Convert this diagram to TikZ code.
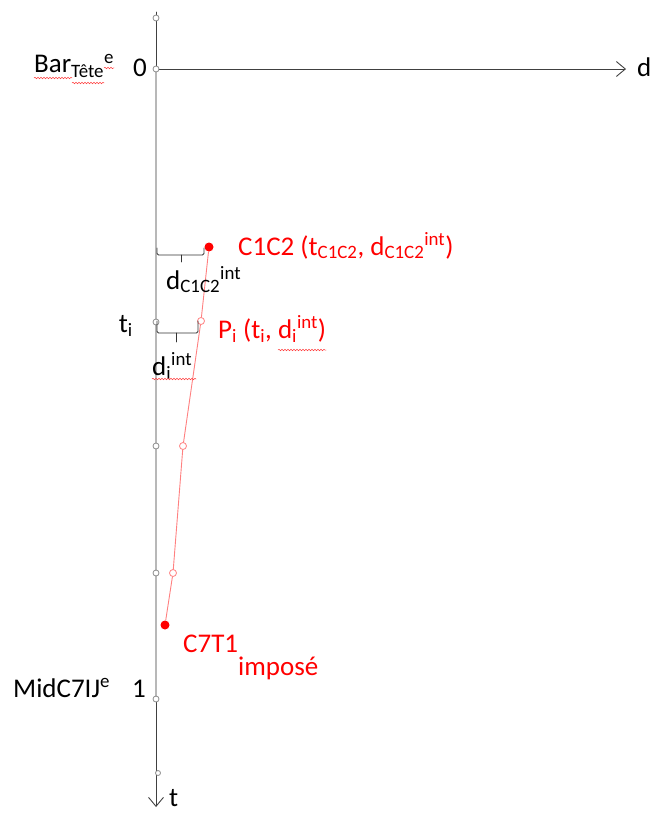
\documentclass[tikz,border=0pt]{standalone}
\usepackage{fontspec}
\setmainfont{Carlito}
\usetikzlibrary{arrows.meta,decorations.pathmorphing,positioning}

\definecolor{axisgray}{rgb}{0.55,0.55,0.55}
\definecolor{wavegray}{rgb}{0.72,0.72,0.72}
\definecolor{linered}{rgb}{1,0.5,0.5}

\begin{document}
\begin{tikzpicture}[x=1pt,y=-1pt,line cap=round,line join=round,
  lbl/.style={font=\fontsize{27}{31}\selectfont,inner sep=0pt},
  redlbl/.style={lbl,text=red},
  axline/.style={draw=black!75,line width=0.9pt},
  axarrow/.style={axline,-{Straight Barb[length=9pt,width=15pt,line width=0.9pt]}},
  axtick/.style={circle,draw=axisgray,fill=white,inner sep=0pt,minimum size=6pt,line width=0.8pt},
  dotfull/.style={circle,fill=red,inner sep=0pt,minimum size=9pt},
  dotopen/.style={circle,draw=linered,fill=white,inner sep=0pt,minimum size=7pt,line width=0.8pt},
  redline/.style={draw=linered,line width=0.9pt},
  brc/.style={draw=black!80,line width=0.9pt,rounded corners=1.5pt},
  squig/.style={draw=red!75,line width=0.5pt,decorate,decoration={snake,amplitude=0.8pt,segment length=3pt}}]
  \useasboundingbox (0,0) rectangle (651,813);

  % axes
  \coordinate (tstart) at (156,12);
  \coordinate (tend) at (156,807);
  \coordinate (O) at (156,69);
  \coordinate (dend) at (626,69);
  \coordinate (tone) at (156,699);
  \draw[axarrow] (tstart) -- (tend);
  \draw[axarrow] (O) -- (dend);
  \draw[draw=wavegray,line width=2.2pt] (O) -- (tone);

  \node[axtick] (top) at (156,18) {};
  \node[axtick] (zero) at (O) {};
  \node[axtick] (ti) at (156,322) {};
  \node[axtick] (tk) at (156,446) {};
  \node[axtick] (tl) at (156,573) {};
  \node[axtick] (one) at (tone) {};
  \node[axtick,minimum size=5pt] (tb) at (158,773) {};

  % red path of points
  \node[dotfull] (c12) at (209,247) {};
  \node[dotopen] (pi) at (201,321) {};
  \node[dotopen] (pk) at (183,446) {};
  \node[dotopen] (pl) at (173,573) {};
  \node[dotfull] (c71) at (165,625) {};
  \draw[redline] (c12) -- (pi) -- (pk) -- (pl) -- (c71);

  % braces
  \draw[brc] (157,248) -- (157,255) -- (204,255) -- (204,248);
  \draw[brc] (181,255) -- (181,262);
  \draw[brc] (157,321) -- (157,333) -- (198,333) -- (198,321);
  \draw[brc] (176,333) -- (176,342);

  % axis labels
  \node[lbl,anchor=base west] (bar) at (34,73) {Bar\textsubscript{Tête}\textsuperscript{e}};
  \node[lbl,anchor=base] (lzero) at (140,77) {0};
  \node[lbl,anchor=base west] (mid) at (13,697) {MidC7IJ\textsuperscript{e}};
  \node[lbl,anchor=base] (lone) at (139,697) {1};
  \node[lbl,anchor=base east] (lti) at (133,332) {t\textsubscript{i}};
  \node[lbl,anchor=base west] (lt) at (169,806) {t};
  \node[lbl,anchor=base west] (ld) at (637,77) {d};

  % point labels
  \node[lbl,anchor=base west] (dc12) at (166,289) {d\textsubscript{C1C2}\textsuperscript{int}};
  \node[lbl,anchor=base west] (dil) at (152,375) {d\textsubscript{i}\textsuperscript{int}};
  \node[redlbl,anchor=base west] (c12lbl) at (238,255) {C1C2 (t\textsubscript{C1C2}, d\textsubscript{C1C2}\textsuperscript{int})};
  \node[redlbl,anchor=base west] (pilbl) at (218,338) {P\textsubscript{i} (t\textsubscript{i}, d\textsubscript{i}\textsuperscript{int})};
  \node[redlbl,anchor=base west] (c71lbl) at (183,652) {C7T1\raisebox{-23pt}{imposé}};

  % spell-check marks
  \draw[squig] (34,78) -- (72,78);
  \draw[squig] (72,83) -- (104,83);
  \draw[squig] (104,68) -- (114,68);
  \draw[squig] (152,379) -- (196,379);
  \draw[squig] (278,350) -- (326,350);
\end{tikzpicture}
\end{document}
